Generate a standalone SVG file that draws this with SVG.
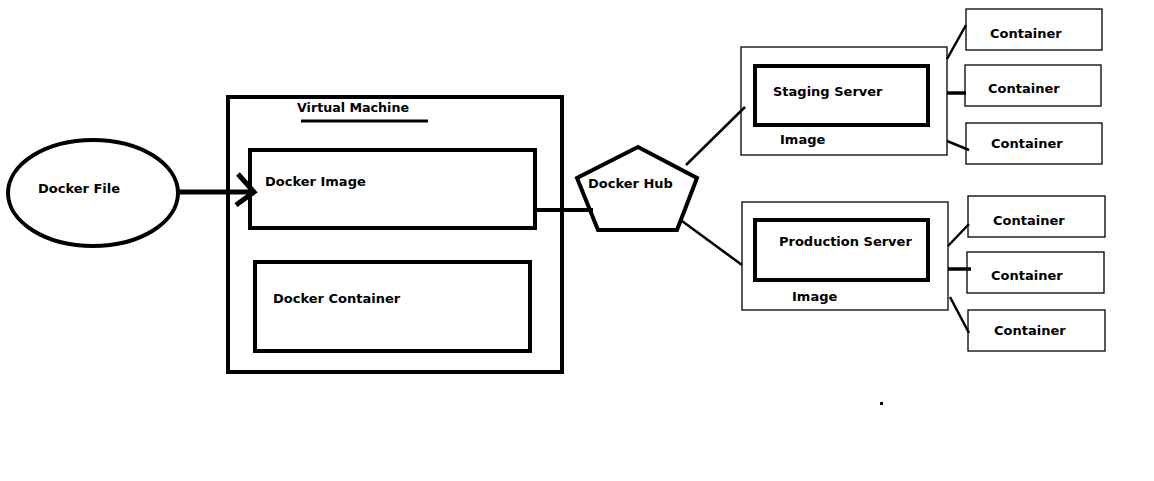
<svg xmlns="http://www.w3.org/2000/svg" width="1154" height="481" viewBox="0 0 1154 481">
<style>
text{font-family:"DejaVu Sans","Liberation Sans",sans-serif;font-weight:bold;font-size:13px;fill:#000}
.thick{fill:none;stroke:#000;stroke-width:4}
.thin{fill:none;stroke:#000;stroke-width:1.3}
.c2{fill:none;stroke:#000;stroke-width:2.5}
.c3{fill:none;stroke:#000;stroke-width:3.5}
</style>
<rect width="1154" height="481" fill="#fff"/>
<g id="docker-file">
<ellipse class="thick" cx="93" cy="193" rx="85" ry="53"/>
<text x="38" y="193">Docker File</text>
</g>
<g id="virtual-machine">
<rect class="thick" x="228" y="97" width="334" height="275"/>
<text x="297" y="112" textLength="112" lengthAdjust="spacingAndGlyphs">Virtual Machine</text>
<line x1="301" y1="121" x2="428" y2="121" stroke="#000" stroke-width="3"/>
</g>
<g id="docker-image">
<rect class="thick" x="250" y="150" width="285" height="78"/>
<text x="265" y="186">Docker Image</text>
</g>
<g id="docker-container">
<rect class="thick" x="255" y="262" width="275" height="89"/>
<text x="273" y="303">Docker Container</text>
</g>
<g id="docker-hub">
<polygon class="thick" points="638,147 697,178 677,230 598,230 577,178"/>
<text x="588" y="188">Docker Hub</text>
</g>
<g id="staging-server">
<rect class="thin" x="741" y="47" width="206" height="108"/>
<rect class="thick" x="755" y="66" width="173" height="59"/>
<text x="773" y="96">Staging Server</text>
<text x="780" y="144">Image</text>
</g>
<g id="production-server">
<rect class="thin" x="742" y="202" width="206" height="108"/>
<rect class="thick" x="755" y="220" width="173" height="60"/>
<text x="779" y="246">Production Server</text>
<text x="792" y="301">Image</text>
</g>
<g id="container-1"><rect class="thin" x="966" y="9" width="136" height="41"/><text x="990" y="38">Container</text></g>
<g id="container-2"><rect class="thin" x="965" y="65" width="136" height="41"/><text x="988" y="93">Container</text></g>
<g id="container-3"><rect class="thin" x="966" y="123" width="136" height="41"/><text x="991" y="148">Container</text></g>
<g id="container-4"><rect class="thin" x="968" y="196" width="137" height="41"/><text x="993" y="225">Container</text></g>
<g id="container-5"><rect class="thin" x="967" y="252" width="137" height="41"/><text x="991" y="280">Container</text></g>
<g id="container-6"><rect class="thin" x="968" y="310" width="137" height="41"/><text x="994" y="335">Container</text></g>
<g id="connectors">
<line x1="178" y1="192" x2="254" y2="192" stroke="#000" stroke-width="5"/>
<polyline points="238,174 254,192 236,205" fill="none" stroke="#000" stroke-width="5"/>
<line x1="535" y1="210" x2="593" y2="210" stroke="#000" stroke-width="4"/>
<line class="c2" x1="686" y1="165" x2="745" y2="107"/>
<line class="c2" x1="682" y1="221" x2="742" y2="265"/>
<line class="c2" x1="947" y1="59" x2="966" y2="25"/>
<line class="c3" x1="947" y1="93" x2="966" y2="93"/>
<line class="c2" x1="947" y1="141" x2="969" y2="150"/>
<line class="c2" x1="948" y1="246" x2="969" y2="224"/>
<line class="c3" x1="948" y1="269" x2="971" y2="269"/>
<line class="c2" x1="950" y1="297" x2="969" y2="333"/>
</g>
<rect x="880" y="402" width="3" height="3" fill="#000"/>
</svg>
